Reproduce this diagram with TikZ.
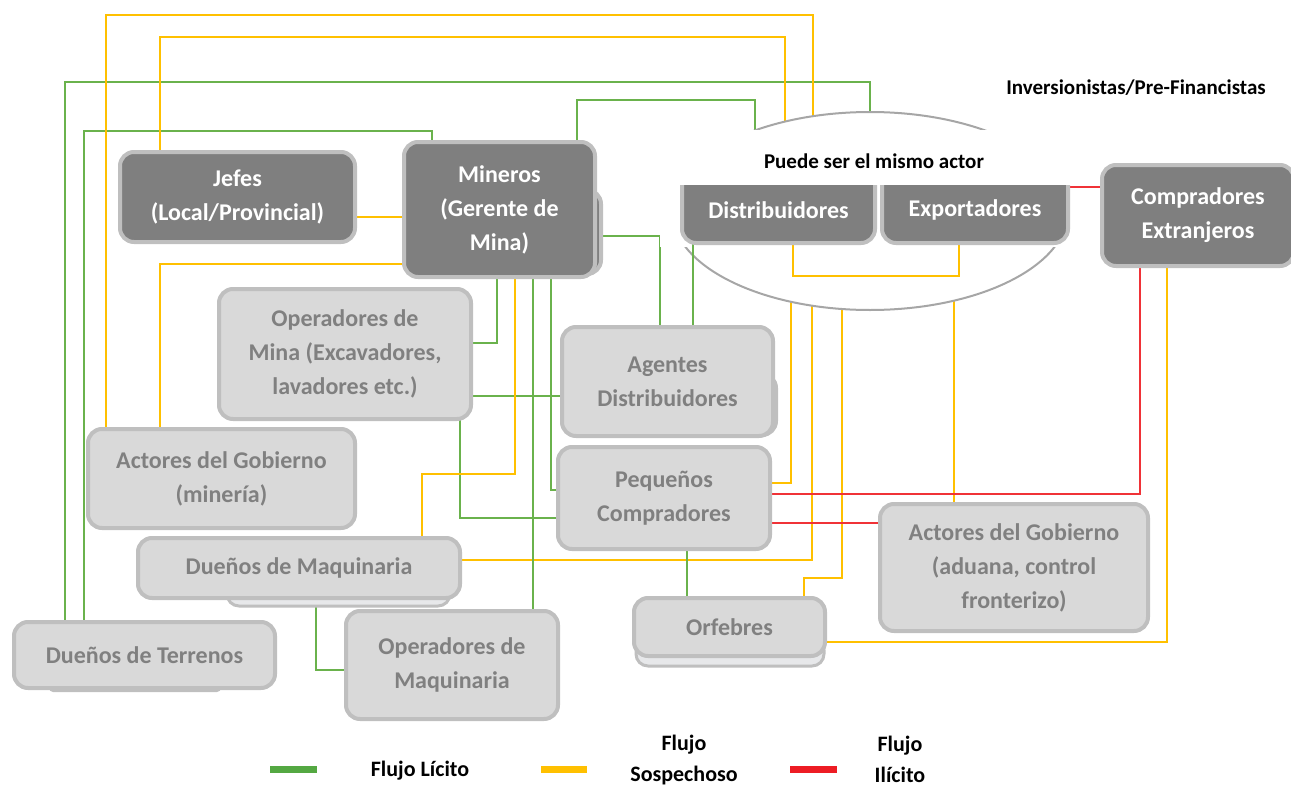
\documentclass[tikz,border=0pt]{standalone}
\usepackage{fontspec}
\setmainfont{Carlito}
\usetikzlibrary{shapes.geometric}
\definecolor{gfl}{RGB}{106,178,76}
\definecolor{yfl}{RGB}{255,192,0}
\definecolor{rfl}{RGB}{240,50,55}
\definecolor{gleg}{RGB}{84,168,66}
\definecolor{rleg}{RGB}{237,28,36}
\definecolor{darkfill}{RGB}{127,127,127}
\definecolor{lightfill}{RGB}{217,217,217}
\definecolor{boxborder}{RGB}{191,191,191}
\definecolor{lighttext}{RGB}{128,128,128}
\definecolor{shadefill}{RGB}{231,232,234}
\definecolor{ellcol}{RGB}{166,166,166}
\begin{document}
\begin{tikzpicture}[x=1pt,y=-1pt,
  basebox/.style={draw=boxborder, line width=4pt, rounded corners=14pt, align=center, inner sep=0pt,
     font=\fontsize{24}{34}\selectfont\bfseries},
  darkbox/.style={basebox, fill=darkfill, text=white},
  lightbox/.style={basebox, fill=lightfill, text=lighttext},
  darktxt/.style={font=\fontsize{24}{34}\selectfont\bfseries, text=white, inner sep=0pt, align=center},
  shadebox/.style={draw=boxborder, line width=3pt, rounded corners=12pt, fill=shadefill, inner sep=0pt},
  gl/.style={draw=gfl, line width=2.5pt},
  yl/.style={draw=yfl, line width=2.5pt},
  rl/.style={draw=rfl, line width=2.5pt},
  lbl/.style={font=\fontsize{21}{34}\selectfont\bfseries, text=black, inner sep=0pt, align=center},
  legtxt/.style={font=\fontsize{22}{31}\selectfont\bfseries, text=black, inner sep=0pt, align=center},
]
\useasboundingbox (0,0) rectangle (1291,787);

% ---------- box frames (named, used as connector ends) ----------
\path
  (237.5,197) node[minimum width=235pt, minimum height=90pt, inner sep=0pt] (jefes) {}
  (499.5,209.5) node[minimum width=191pt, minimum height=135pt, inner sep=0pt] (mineros) {}
  (345,354) node[minimum width=252pt, minimum height=130pt, inner sep=0pt] (opmina) {}
  (667.5,381.5) node[minimum width=211pt, minimum height=109pt, inner sep=0pt] (agentes) {}
  (664,498) node[minimum width=212pt, minimum height=102pt, inner sep=0pt] (pequenos) {}
  (221.5,478.5) node[minimum width=267pt, minimum height=99pt, inner sep=0pt] (actmin) {}
  (299,568) node[minimum width=322pt, minimum height=60pt, inner sep=0pt] (duenmaq) {}
  (338.5,591.5) node[minimum width=223pt, minimum height=29pt, inner sep=0pt] (duenmaqb) {}
  (144.5,655) node[minimum width=261pt, minimum height=66pt, inner sep=0pt] (duenter) {}
  (452,665) node[minimum width=212pt, minimum height=108pt, inner sep=0pt] (opmaq) {}
  (729.5,627) node[minimum width=191pt, minimum height=58pt, inner sep=0pt] (orfebres) {}
  (1014,567.5) node[minimum width=268pt, minimum height=127pt, inner sep=0pt] (actadu) {}
  (778.5,210) node[minimum width=193pt, minimum height=66pt, inner sep=0pt] (distrib) {}
  (975,210) node[minimum width=186pt, minimum height=66pt, inner sep=0pt] (export) {}
  (1198,215.5) node[minimum width=192pt, minimum height=101pt, inner sep=0pt] (compr) {};

% ---------- connectors reaching the ellipse group ----------
\path[gl] (duenter.north -| 65,0) |- (870,82) -- (870,211);
\path[gl] (duenter.north -| 84,0) |- (432,131) -- (mineros.north -| 432,0);
\path[gl] (mineros.north -| 577,0) |- (755,100) -- (755,211);
\path[yl] (actmin.north -| 106,0) |- (813,15) -- (813,211);
\path[yl] (jefes.north -| 160,0) |- (785,37) -- (785,211);
\path[yl] (791,211) |- (pequenos.east |- 0,483);
\path[yl] (812,211) |- (duenmaq.east |- 0,560);
\path[yl] (842,211) |- (804,578) -- (orfebres.north -| 804,0);
\path[yl] (954,211) -- (actadu.north -| 954,0);

% ---------- other connectors ----------
\path[gl] (mineros.east |- 0,236) -| (agentes.north -| 660,0);
\path[gl] (mineros.south -| 497,0) |- (opmina.east |- 0,343);
\path[gl] (opmina.east |- 0,396) -- (agentes.west |- 0,396);
\path[gl] (mineros.south -| 533,0) -- (opmaq.north -| 533,0);
\path[gl] (mineros.south -| 551,0) |- (pequenos.west |- 0,490);
\path[gl] (opmina.south -| 460,0) |- (pequenos.west |- 0,518);
\path[gl] (pequenos.south -| 687,0) -- (orfebres.north -| 687,0);
\path[gl] (duenmaqb.south -| 316,0) |- (opmaq.west |- 0,670);
\path[yl] (jefes.east |- 0,217) -- (mineros.west |- 0,217);
\path[yl] (actmin.north -| 160,0) |- (mineros.west |- 0,264);
\path[yl] (mineros.south -| 515,0) |- (422,474) -- (duenmaq.north -| 422,0);
\path[yl] (compr.south -| 1167,0) |- (orfebres.east |- 0,642);
\path[rl] (pequenos.east |- 0,494) -| (compr.south -| 1140,0);
\path[rl] (pequenos.east |- 0,523) -- (actadu.west |- 0,523);

% ---------- ellipse group ----------
\node[ellipse, draw=ellcol, line width=2pt, fill=white, minimum width=396pt, minimum height=198pt, inner sep=0pt] (grp) at (870,211) {};
\node[fill=white, minimum width=420pt, minimum height=117pt, inner sep=0pt] (same) at (870,188) {};
\node[lbl] at (874,161) {Puede ser el mismo actor};
\path[gl] (distrib.south -| 693,0) -- (agentes.north -| 693,0);
\path[yl] (distrib.south -| 793,0) |- (959,276) -- (export.south -| 959,0);
\path[rl] (export.east |- 0,187) -- (compr.west |- 0,187);

% ---------- boxes ----------
\begin{scope}
\clip (600,185) rectangle (1090,260);
\node[darkbox, minimum width=193pt, minimum height=80pt] at (778.5,203) {};
\node[darkbox, minimum width=186pt, minimum height=80pt] at (975,203) {};
\end{scope}
\node[darktxt] at (distrib.center) {Distribuidores};
\node[darktxt] at (export.center) {Exportadores};
\node[lbl] (inv) at (1136,88) {Inversionistas/Pre-Financistas};

\node[darkbox, minimum width=235pt, minimum height=90pt] at (jefes.center) {Jefes\\(Local/Provincial)};
\node[darkbox, minimum width=189pt, minimum height=84pt] at (506.5,232) {};
\node[darkbox, minimum width=191pt, minimum height=135pt] at (mineros.center) {Mineros\\(Gerente de\\Mina)};
\node[lightbox, minimum width=252pt, minimum height=130pt] at (opmina.center) {Operadores de\\Mina (Excavadores,\\lavadores etc.)};
\node[lightbox, minimum width=208pt, minimum height=61pt] at (672,404.5) {};
\node[lightbox, minimum width=211pt, minimum height=109pt] at (agentes.center) {Agentes\\Distribuidores};
\node[lightbox, minimum width=212pt, minimum height=102pt] at (pequenos.center) {Peque\~nos\\Compradores};
\node[lightbox, minimum width=267pt, minimum height=99pt] at (actmin.center) {Actores del Gobierno\\(miner\'ia)};
\node[shadebox, minimum width=223pt, minimum height=29pt] at (duenmaqb.center) {};
\node[lightbox, minimum width=322pt, minimum height=60pt] at (duenmaq.center) {Due\~nos de Maquinaria};
\node[shadebox, draw=none, fill=boxborder, minimum width=172pt, minimum height=10pt, rounded corners=4pt] at (135,687) {};
\node[lightbox, minimum width=261pt, minimum height=66pt] at (duenter.center) {Due\~nos de Terrenos};
\node[lightbox, minimum width=212pt, minimum height=108pt] at (opmaq.center) {Operadores de\\Maquinaria};
\node[shadebox, minimum width=188pt, minimum height=28pt] at (730,652) {};
\node[lightbox, minimum width=191pt, minimum height=58pt] at (orfebres.center) {Orfebres};
\node[lightbox, minimum width=268pt, minimum height=127pt] at (actadu.center) {Actores del Gobierno\\(aduana, control\\fronterizo)};
\node[darkbox, minimum width=192pt, minimum height=101pt] at (compr.center) {Compradores\\Extranjeros};

% ---------- legend ----------
\node[fill=gleg, minimum width=47pt, minimum height=7pt, inner sep=0pt] (lg) at (293.5,769.5) {};
\node[legtxt] (lgt) at (420,771) {Flujo L\'icito};
\node[fill=yfl, minimum width=46pt, minimum height=7pt, inner sep=0pt] (ly) at (564,769.5) {};
\node[legtxt] (lyt) at (684,760) {Flujo\\Sospechoso};
\node[fill=rleg, minimum width=47pt, minimum height=7pt, inner sep=0pt] (lr) at (813.5,769.5) {};
\node[legtxt] (lrt) at (900,759) {Flujo\\Il\'icito};
\end{tikzpicture}
\end{document}
